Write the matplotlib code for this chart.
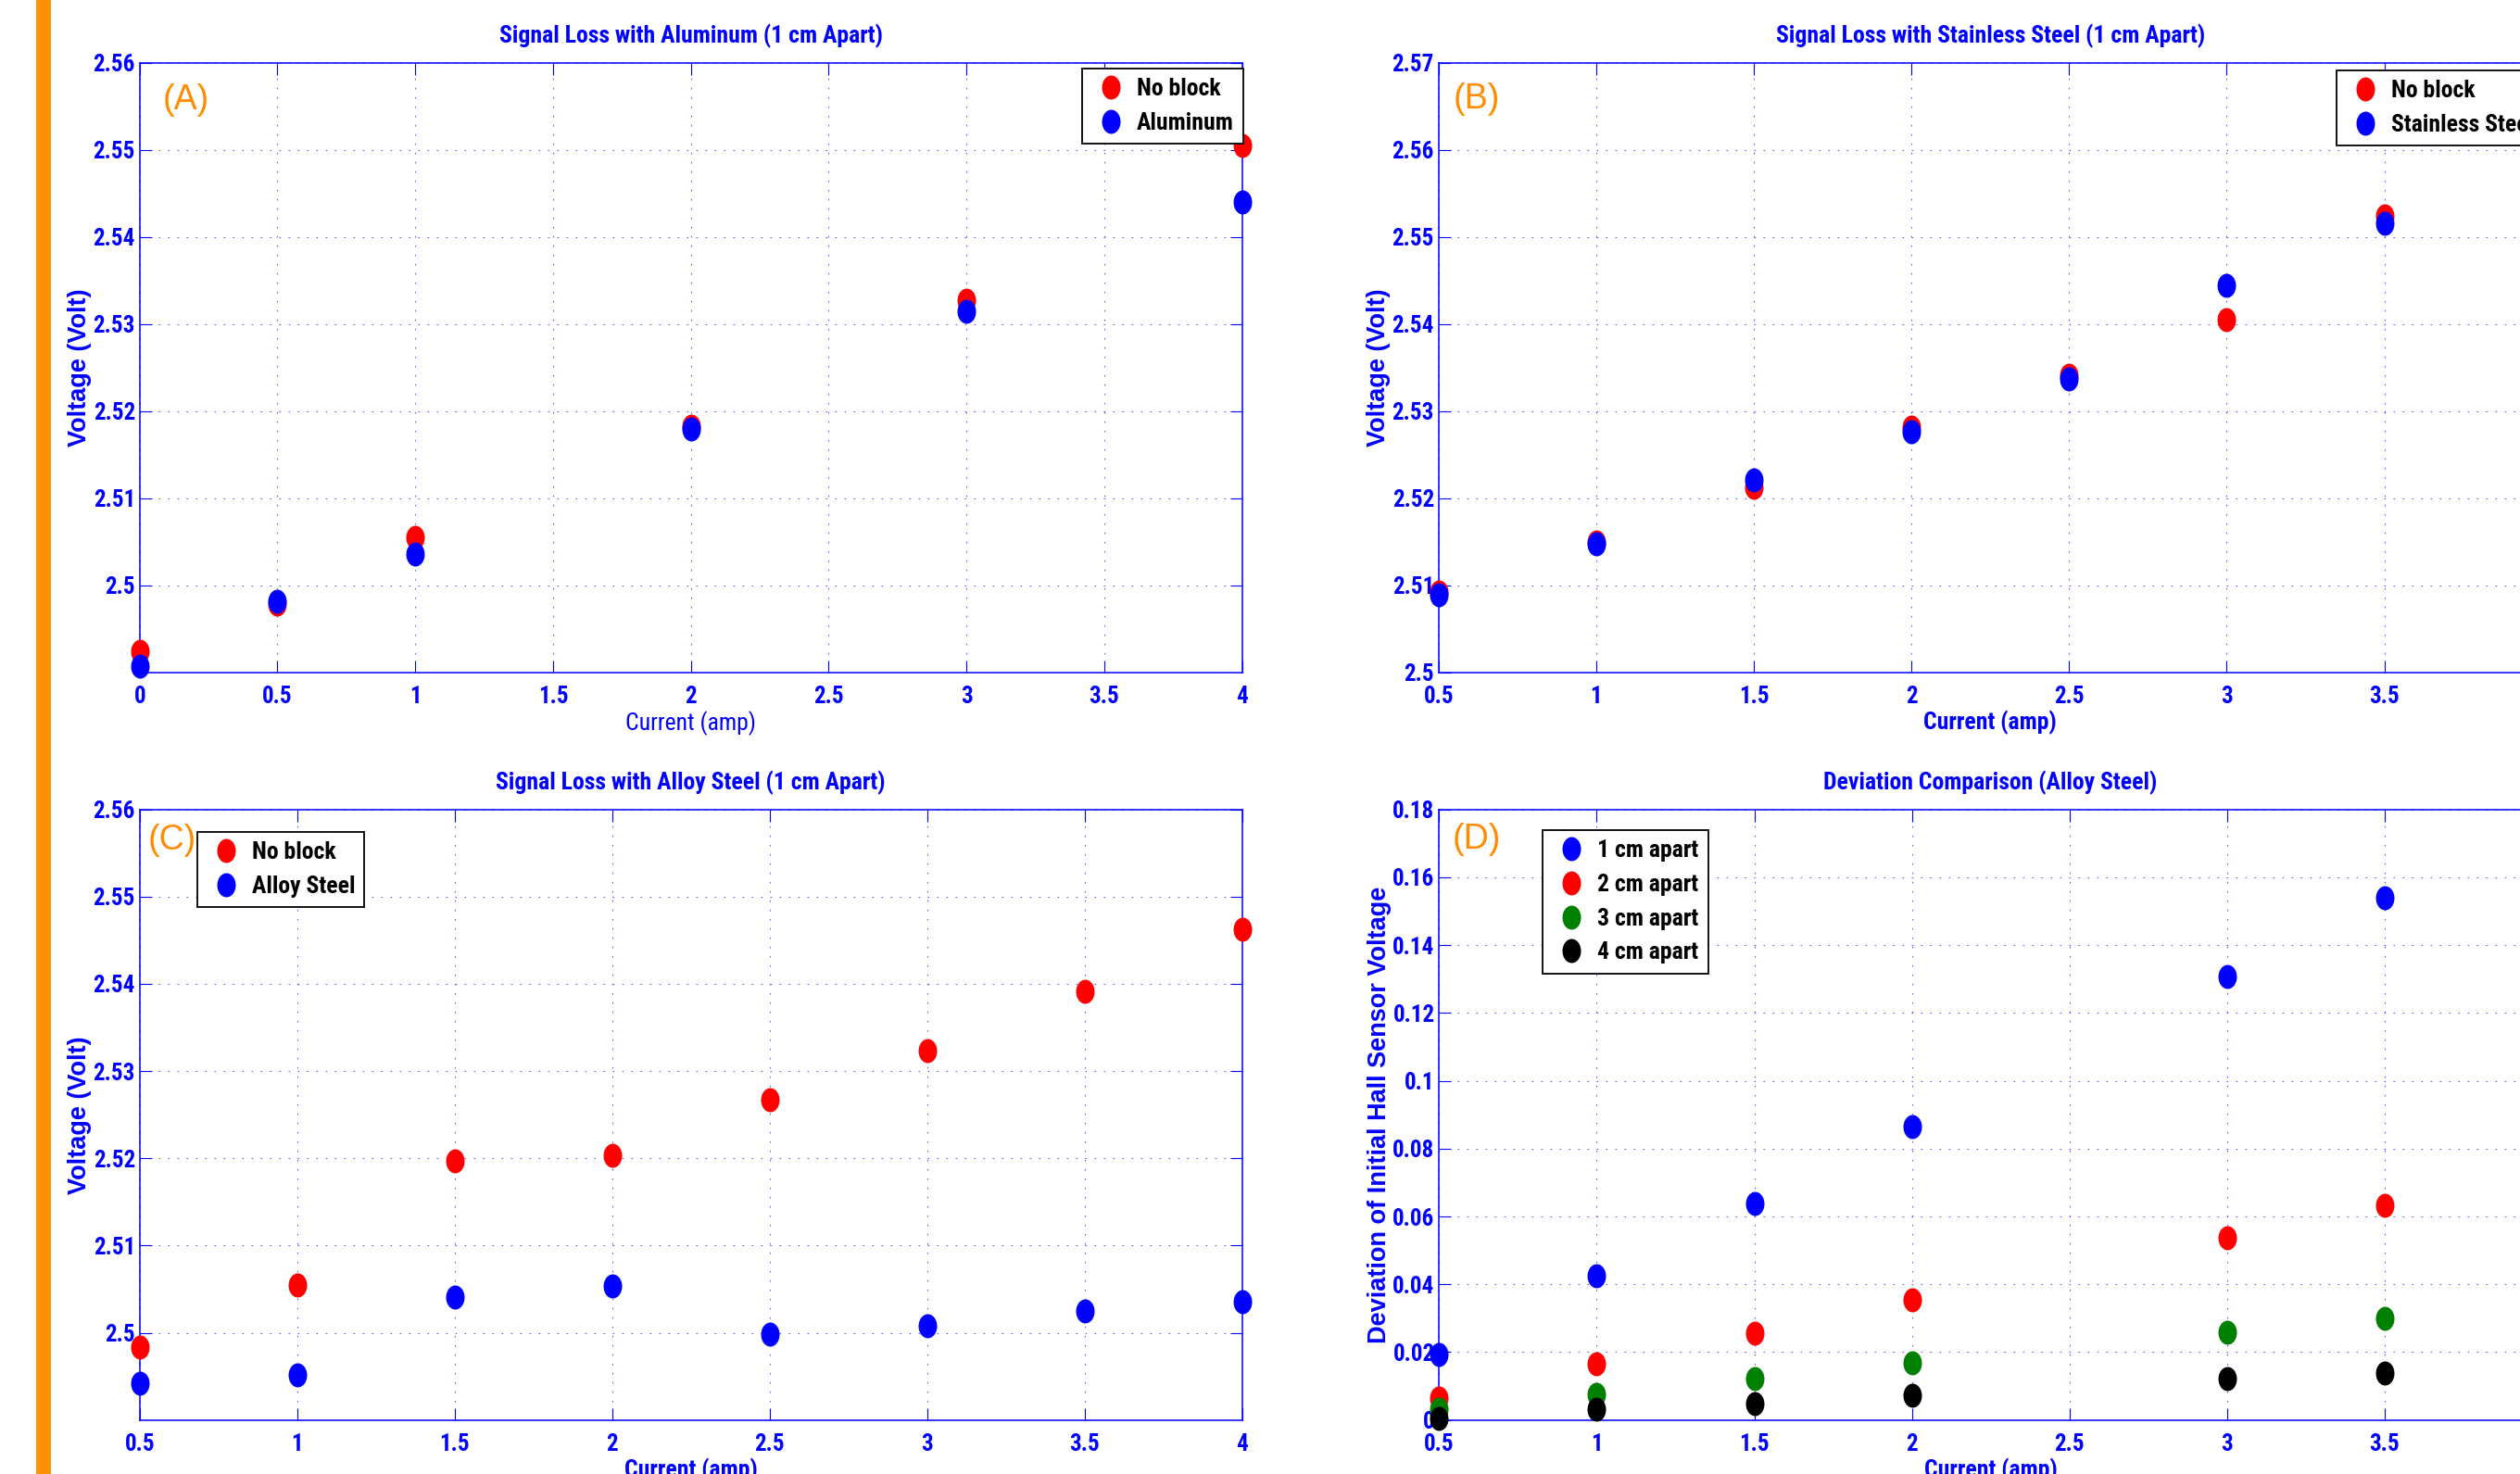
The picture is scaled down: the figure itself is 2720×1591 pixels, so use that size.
import os
import numpy as np
import matplotlib
matplotlib.use('Agg')
import matplotlib.pyplot as plt
from matplotlib import font_manager
from matplotlib.path import Path
from matplotlib.transforms import Affine2D
from matplotlib.lines import Line2D
from matplotlib.patches import Rectangle
from matplotlib.ticker import FuncFormatter

# ---------------- data ----------------
cur_a = [0, 0.5, 1, 2, 3, 4]
a_noblock = [2.4924, 2.4979, 2.5055, 2.5183, 2.5327, 2.5505]
a_alum = [2.4907, 2.4982, 2.5036, 2.5180, 2.5315, 2.5440]

cur_b = [0.5, 1, 1.5, 2, 2.5, 3, 3.5]
b_noblock = [2.5093, 2.5150, 2.5213, 2.5282, 2.5341, 2.5405, 2.5524]
b_stainless = [2.5089, 2.5148, 2.5221, 2.5277, 2.5337, 2.5445, 2.5516]

cur_c = [0.5, 1, 1.5, 2, 2.5, 3, 3.5, 4]
c_noblock = [2.4984, 2.5055, 2.5197, 2.5203, 2.5267, 2.5324, 2.5391, 2.5463]
c_alloy = [2.4942, 2.4952, 2.5041, 2.5054, 2.4998, 2.5008, 2.5025, 2.5036]

cur_d = [0.5, 1, 1.5, 2, 3, 3.5]
d_1cm = [0.0193, 0.0424, 0.0638, 0.0866, 0.1308, 0.1539]
d_2cm = [0.0065, 0.0165, 0.0256, 0.0353, 0.0538, 0.0634]
d_3cm = [0.0031, 0.0075, 0.0121, 0.0168, 0.0259, 0.0301]
d_4cm = [0.0006, 0.0031, 0.0047, 0.0073, 0.0121, 0.0138]

titles = ['Signal Loss with Aluminum (1 cm Apart)',
          'Signal Loss with Stainless Steel (1 cm Apart)',
          'Signal Loss with Alloy Steel (1 cm Apart)',
          'Deviation Comparison (Alloy Steel)']
xlabel_text = 'Current (amp)'
ylabel_volt = 'Voltage (Volt)'
ylabel_dev = 'Deviation of Initial Hall Sensor Voltage'
panel_tags = ['(A)', '(B)', '(C)', '(D)']

# ---------------- fonts ----------------
def pick(names):
    for n in names:
        try:
            font_manager.findfont(font_manager.FontProperties(family=n),
                                  fallback_to_default=False)
            return n
        except Exception:
            pass
    return 'DejaVu Sans'

wide = pick(['Liberation Sans', 'Arial', 'DejaVu Sans'])

prefs = ['liberationsansnarrow', 'arialn', 'robotocondensed', 'dejavusanscondensed',
         'opensanscondensed', 'opensans_condensed', 'notosans-condensed',
         'notosanscondensed']
found = None
for p in prefs:
    for f in font_manager.fontManager.ttflist:
        b = os.path.basename(f.fname).lower().replace(' ', '')
        if b.startswith(p):
            found = f
            break
    if found is not None:
        break

if found is not None:
    narrow = found.name
    plt.rcParams['font.stretch'] = found.stretch
    S = 1.0
else:
    narrow = wide
    S = 0.84

plt.rcParams['font.family'] = [narrow, 'DejaVu Sans']
plt.rcParams['font.weight'] = 'bold'

TICK_FS = 18 * S
TITLE_FS = 18.5 * S
XLAB_FS = 18.5 * S
LEG_FS = 18.5 * S

W, H = 2720, 1591
BLUE = '#0000ff'
GRID = '#5f5fff'
ORANGE = '#ff8c00'
BAR = '#ff9200'

fig = plt.figure(figsize=(W / 100, H / 100), dpi=100)
fig.patch.set_facecolor('white')
fig.add_artist(Rectangle((39 / W, 0), 16 / W, 1, transform=fig.transFigure,
                         facecolor=BAR, edgecolor='none'))

def rect(l, t, r, b):
    return [l / W, 1 - b / H, (r - l) / W, (b - t) / H]

axA = fig.add_axes(rect(150.7, 67.7, 1340.7, 726))
axB = fig.add_axes(rect(1552.7, 67.7, 2743.7, 726))
axC = fig.add_axes(rect(150.7, 873.7, 1340.7, 1532.7))
axD = fig.add_axes(rect(1553.3, 873.7, 2744.0, 1532.7))

ell = Path.unit_circle().transformed(Affine2D().scale(0.77, 1.0))
MS = 18.7

fmt = FuncFormatter(lambda v, p: f'{v:g}')

def style(ax, xlim, ylim, xticks, yticks, title, ylabel, xbold=True):
    ax.set_xlim(xlim)
    ax.set_ylim(ylim)
    ax.set_xticks(np.round(xticks, 4))
    ax.set_yticks(np.round(yticks, 4))
    ax.xaxis.set_major_formatter(fmt)
    ax.yaxis.set_major_formatter(fmt)
    for s in ax.spines.values():
        s.set_color(BLUE)
        s.set_linewidth(1.1)
    ax.tick_params(which='both', direction='in', length=9.5, width=0.8,
                   color=BLUE, top=True, right=True, labelcolor=BLUE,
                   labelsize=TICK_FS)
    ax.tick_params(axis='x', pad=10)
    ax.tick_params(axis='y', pad=3.4)
    ax.grid(True, color=GRID, linestyle=(0, (1.5, 7.5)), linewidth=0.8)
    ax.set_axisbelow(True)
    ax.set_title(title, color=BLUE, fontsize=TITLE_FS, fontweight='bold', pad=15.8)
    ax.set_xlabel(xlabel_text, color=BLUE, fontsize=XLAB_FS,
                  fontweight='bold' if xbold else 'normal')
    ax.xaxis.set_label_coords(0.5, -41 / 658)
    ax.set_ylabel(ylabel, color=BLUE, fontsize=19.5, fontweight='bold',
                  family=[wide, 'DejaVu Sans'], stretch='normal')
    ax.yaxis.set_label_coords(-51.2 / 1190, 0.5)

def dots(ax, x, y, color):
    ax.plot(x, y, linestyle='none', marker=ell, markersize=MS,
            markerfacecolor=color, markeredgewidth=0, color=color,
            clip_on=False, zorder=3)

# legend geometry in pixels (reference)
fs_px = LEG_FS * 100 / 72
text_h = 0.9 * fs_px
pitch = 36.0
lab_sp = (pitch - text_h) / fs_px
bpad_px = 21.7 - text_h / 2
bpad = bpad_px / fs_px
hlen = 2 * (31.0 - bpad_px) / fs_px
htp = (59.0 - bpad_px) / fs_px - hlen

def legend(ax, labels, colors, left_px, top_px):
    handles = [Line2D([], [], linestyle='none', marker=ell, markersize=MS,
                      markerfacecolor=c, markeredgewidth=0, color=c)
               for c in colors]
    leg = ax.legend(handles, labels, loc='upper left',
                    bbox_to_anchor=(left_px / W, 1 - top_px / H),
                    bbox_transform=fig.transFigure, borderaxespad=0,
                    frameon=True, fancybox=False, edgecolor='black',
                    framealpha=1, prop=dict(family=narrow, weight='bold', size=LEG_FS),
                    handlelength=hlen, handletextpad=htp, borderpad=bpad,
                    labelspacing=lab_sp)
    leg.get_frame().set_linewidth(1.3)
    leg.set_zorder(6)

def tag(ax, text, off_x, off_y, width_px, height_px):
    ax.text(off_x / width_px, 1 - off_y / height_px, text, transform=ax.transAxes,
            ha='left', va='top', color=ORANGE, fontsize=27, fontweight='normal',
            family=[wide, 'DejaVu Sans'], stretch='normal', zorder=5)

# Panel A
style(axA, (0, 4), (2.49, 2.56), np.arange(0, 4.01, 0.5), np.arange(2.50, 2.5601, 0.01),
      titles[0], ylabel_volt, xbold=False)
dots(axA, cur_a, a_noblock, 'red')
dots(axA, cur_a, a_alum, 'blue')
legend(axA, ['No block', 'Aluminum'], ['red', 'blue'], 1167.7, 74)
tag(axA, panel_tags[0], 25, 22.3, 1190, 658)

# Panel B
style(axB, (0.5, 4), (2.50, 2.57), np.arange(0.5, 4.01, 0.5), np.arange(2.50, 2.5701, 0.01),
      titles[1], ylabel_volt)
dots(axB, cur_b, b_noblock, 'red')
dots(axB, cur_b, b_stainless, 'blue')
legend(axB, ['No block', 'Stainless Steel'], ['red', 'blue'], 2521.7, 76)
tag(axB, panel_tags[1], 15.6, 21, 1191, 658)

# Panel C
style(axC, (0.5, 4), (2.49, 2.56), np.arange(0.5, 4.01, 0.5), np.arange(2.50, 2.5601, 0.01),
      titles[2], ylabel_volt)
dots(axC, cur_c, c_noblock, 'red')
dots(axC, cur_c, c_alloy, 'blue')
legend(axC, ['No block', 'Alloy Steel'], ['red', 'blue'], 212.7, 897.7)
tag(axC, panel_tags[2], 9.3, 15.6, 1190, 659)

# Panel D
style(axD, (0.5, 4), (0, 0.18), np.arange(0.5, 4.01, 0.5), np.arange(0, 0.1801, 0.02),
      titles[3], ylabel_dev)
dots(axD, cur_d, d_1cm, 'blue')
dots(axD, cur_d, d_2cm, 'red')
dots(axD, cur_d, d_3cm, (0, 0.5, 0))
dots(axD, cur_d, d_4cm, 'black')
legend(axD, ['1 cm apart', '2 cm apart', '3 cm apart', '4 cm apart'],
       ['blue', 'red', (0, 0.5, 0), 'black'], 1665.3, 895.7)
tag(axD, panel_tags[3], 14.7, 14.6, 1191, 659)

fig.savefig('out.png', dpi=100, facecolor='white')
